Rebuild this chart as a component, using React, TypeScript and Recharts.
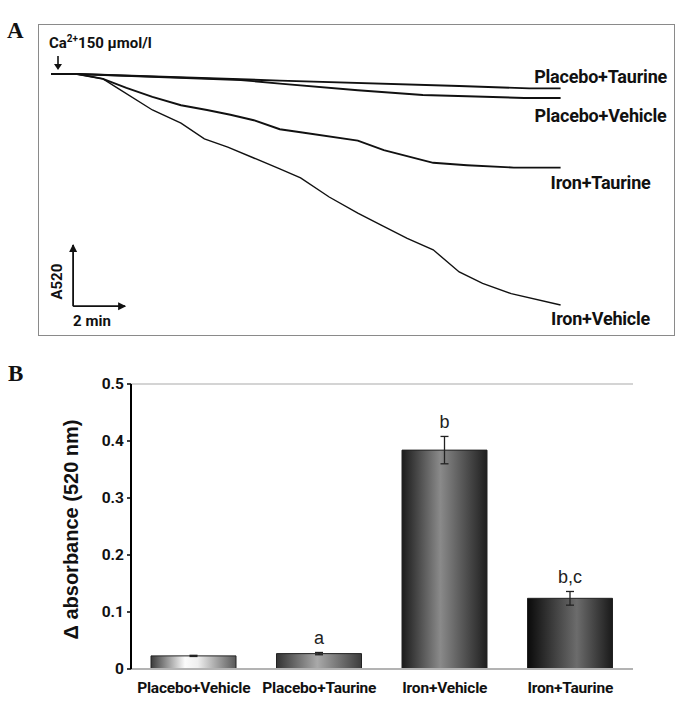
import React from 'react';
import {
  LineChart, Line, XAxis, YAxis, ReferenceLine, ReferenceDot, LabelList,
  BarChart, Bar, Cell, ErrorBar,
} from 'recharts';

// ---------- Panel A: absorbance traces (time in min, ΔA520 in mA units) ----------
const traceNames = ['Placebo+Taurine', 'Placebo+Vehicle', 'Iron+Taurine', 'Iron+Vehicle'];
const ptTime = [0, 1.0, 8.8, 15.7, 18.4, 19.6];
const ptAbs = [0, 0, -11, -20, -24, -24];
const pvTime = [0, 1.0, 7.3, 8.8, 11.8, 14.3, 16.0, 18.2, 19.6];
const pvAbs = [0, 0, -10, -16, -27, -35, -37, -40, -40];
const itTime = [0, 1.0, 2.0, 2.9, 3.9, 5.0, 6.0, 6.9, 7.8, 8.8, 9.6, 11.8, 12.8, 14.7, 16.0, 17.8, 19.6];
const itAbs = [0, 0, -8, -23, -38, -52, -60, -68, -77, -92, -97, -111, -127, -148, -152, -156, -156];
const ivTime = [0, 1.0, 2.0, 2.5, 3.9, 5.0, 5.9, 6.8, 7.8, 8.8, 9.6, 10.7, 11.8, 12.7, 13.7, 14.7, 15.7, 16.6, 17.7, 19.6];
const ivAbs = [0, 0, -8, -22, -60, -82, -108, -122, -140, -158, -173, -205, -232, -252, -274, -293, -330, -349, -366, -385];

// scale bar: 2 min x 100 mA
const scaleT0 = 0.85;
const scaleT1 = 2.85;
const scaleA0 = -387;
const scaleA1 = -285;

// ---------- Panel B: bar data ----------
const groups = ['Placebo+Vehicle', 'Placebo+Taurine', 'Iron+Vehicle', 'Iron+Taurine'];
const deltaAbs = [0.023, 0.027, 0.384, 0.124];
const sem = [0.001, 0.002, 0.024, 0.012];
const sigLetters = ['', 'a', 'b', 'b,c'];
const yTicks = [0, 0.1, 0.2, 0.3, 0.4, 0.5];

const toPts = (ts: number[], as: number[]) => ts.map((t, i) => ({ t, a: as[i] }));
const traces = [toPts(ptTime, ptAbs), toPts(pvTime, pvAbs), toPts(itTime, itAbs), toPts(ivTime, ivAbs)];
const labelDy = [-12, 18, 15, 14];
const lineWidths = [1.9, 1.9, 1.9, 1.4];

const barData = groups.map((name, i) => ({ name, value: deltaAbs[i], err: sem[i], sig: sigLetters[i] }));

const COND = "'Roboto', sans-serif";
const ARIAL = "'Liberation Sans', Arial, sans-serif";
const SERIF = "'Liberation Serif', 'Times New Roman', serif";

const gradients = [
  [['0%', '#3a3a3a'], ['40%', '#fbfbfb'], ['55%', '#efefef'], ['100%', '#585858']],
  [['0%', '#333333'], ['48%', '#a9a9a9'], ['100%', '#3c3c3c']],
  [['0%', '#1b1b1b'], ['45%', '#8a8a8a'], ['100%', '#1f1f1f']],
  [['0%', '#0a0a0a'], ['58%', '#6c6c6c'], ['100%', '#1a1a1a']],
];

const makeEndLabel = (si: number) => (props: any) => {
  const { x, y, index } = props;
  if (index !== traces[si].length - 1) return null;
  return (
    <text x={x + 40} y={y + labelDy[si]} dy="0.35em" textAnchor="middle"
      fontFamily={COND} fontWeight={700} fontSize={18} letterSpacing={-0.2} fill="#111">
      {traceNames[si]}
    </text>
  );
};

const SigLabel = (props: any) => {
  const { x, y, width, height, index } = props;
  const d = barData[index];
  if (!d || !d.sig) return null;
  const pxPerUnit = height / d.value;
  const errTop = y - d.err * pxPerUnit;
  return (
    <text x={x + width / 2} y={errTop - 8} textAnchor="middle" fontFamily={ARIAL} fontSize={18} fill="#222">
      {d.sig}
    </text>
  );
};

const XTick = (props: any) => {
  const { x, y, payload } = props;
  return (
    <text x={x} y={y + 16} textAnchor="middle" fontFamily={COND} fontWeight={700} fontSize={15.5} letterSpacing={-0.2} fill="#111">
      {payload.value}
    </text>
  );
};

const YTick = (props: any) => {
  const { x, y, payload } = props;
  const v = payload.value;
  return (
    <text x={x} y={y} dy="0.35em" textAnchor="end" fontFamily={COND} fontWeight={700} fontSize={15.5} fill="#111">
      {v === 0 ? '0' : v.toFixed(1)}
    </text>
  );
};

const YLabel = (props: any) => {
  const vb = props.viewBox;
  const cx = vb.x + 21;
  const cy = vb.y + vb.height / 2 + 3;
  return (
    <text x={cx} y={cy} dy="0.35em" textAnchor="middle" transform={`rotate(-90, ${cx}, ${cy})`}
      fontFamily={ARIAL} fontWeight={700} fontSize={20} fill="#111">
      Δ absorbance (520 nm)
    </text>
  );
};

export default function App() {
  return (
    <div style={{ position: 'absolute', left: 0, top: 0, width: 688, height: 701, background: '#fff' }}>
      {/* Panel A */}
      <div style={{ position: 'absolute', left: 7, top: 18, fontFamily: SERIF, fontWeight: 700, fontSize: 23, color: '#111' }}>A</div>
      <div style={{ position: 'absolute', left: 38, top: 24, width: 635, height: 310, border: '1.5px solid #8a8a8a' }} />
      <div style={{ position: 'absolute', left: 49, top: 33, fontFamily: COND, fontWeight: 700, fontSize: 15, color: '#111', whiteSpace: 'nowrap' }}>
        Ca<sup style={{ fontSize: 10 }}>2+</sup>150 μmol/l
      </div>
      <svg style={{ position: 'absolute', left: 50, top: 55 }} width={16} height={18}>
        <line x1={8} y1={1} x2={8} y2={10} stroke="#111" strokeWidth={1.6} />
        <path d="M4 9 L12 9 L8 15 Z" fill="#111" />
      </svg>
      <div style={{ position: 'absolute', left: 0, top: 0 }}>
        <LineChart width={688} height={340} margin={{ top: 74, left: 51, right: 117, bottom: 26 }}>
          <XAxis type="number" dataKey="t" domain={[0, 20]} hide />
          <YAxis type="number" domain={[-400, 0]} hide />
          {traces.map((pts, si) => (
            <Line key={traceNames[si]} data={pts} dataKey="a" type="linear" stroke="#111"
              strokeWidth={lineWidths[si]} dot={false} isAnimationActive={false}>
              <LabelList dataKey="a" content={makeEndLabel(si)} />
            </Line>
          ))}
          <ReferenceLine segment={[{ x: scaleT0, y: scaleA0 }, { x: scaleT1, y: scaleA0 }]} stroke="#111" strokeWidth={1.8} />
          <ReferenceLine segment={[{ x: scaleT0, y: scaleA0 }, { x: scaleT0, y: scaleA1 }]} stroke="#111" strokeWidth={1.8} />
          <ReferenceDot x={scaleT1} y={scaleA0} r={1}
            shape={(p: any) => <path d={`M${p.cx + 1} ${p.cy} l-8 -4 v8 z`} fill="#111" />} />
          <ReferenceDot x={scaleT0} y={scaleA1} r={1}
            shape={(p: any) => <path d={`M${p.cx} ${p.cy - 1} l-4 8 h8 z`} fill="#111" />} />
          <ReferenceDot x={scaleT0} y={(scaleA0 + scaleA1) / 2} r={1}
            shape={(p: any) => (
              <text x={p.cx - 11} y={p.cy + 6} textAnchor="middle" transform={`rotate(-90, ${p.cx - 11}, ${p.cy + 6})`}
                fontFamily={COND} fontWeight={700} fontSize={15} fill="#111">A520</text>
            )} />
          <ReferenceDot x={scaleT0} y={scaleA0} r={1}
            shape={(p: any) => (
              <text x={p.cx} y={p.cy + 20} textAnchor="start" fontFamily={COND} fontWeight={700} fontSize={15} fill="#111">2 min</text>
            )} />
        </LineChart>
      </div>

      {/* Panel B */}
      <div style={{ position: 'absolute', left: 8, top: 361, fontFamily: SERIF, fontWeight: 700, fontSize: 23, color: '#111' }}>B</div>
      <div style={{ position: 'absolute', left: 0, top: 340 }}>
        <BarChart width={688} height={361} data={barData} margin={{ top: 44, right: 55, bottom: 2, left: 50 }}>
          <defs>
            {gradients.map((stops, gi) => (
              <linearGradient key={gi} id={`barGrad${gi}`} x1="0" y1="0" x2="1" y2="0">
                {stops.map(([off, col], si) => (
                  <stop key={si} offset={off} stopColor={col} />
                ))}
              </linearGradient>
            ))}
          </defs>
          <XAxis dataKey="name" height={30} interval={0} tickLine={false}
            axisLine={{ stroke: '#b3b3b3', strokeWidth: 2 }} tick={<XTick />} />
          <YAxis width={81} domain={[0, 0.5]} ticks={yTicks} tickSize={4} tickMargin={3}
            axisLine={{ stroke: '#000', strokeWidth: 2 }} tickLine={{ stroke: '#000', strokeWidth: 1.5 }}
            tick={<YTick />} label={(p: any) => <YLabel {...p} />} />
          <YAxis yAxisId="frame" orientation="right" width={0} tick={false} tickLine={false}
            axisLine={{ stroke: '#c6c6c6', strokeWidth: 1.5 }} />
          <ReferenceLine y={0.5} stroke="#c6c6c6" strokeWidth={1.5} />
          <Bar dataKey="value" barSize={85} stroke="#222" strokeWidth={1} isAnimationActive={false}>
            {barData.map((d, i) => (
              <Cell key={d.name} fill={`url(#barGrad${i})`} />
            ))}
            <ErrorBar dataKey="err" width={4} stroke="#222" strokeWidth={1.3} />
            <LabelList dataKey="sig" content={SigLabel} />
          </Bar>
        </BarChart>
      </div>
    </div>
  );
}
